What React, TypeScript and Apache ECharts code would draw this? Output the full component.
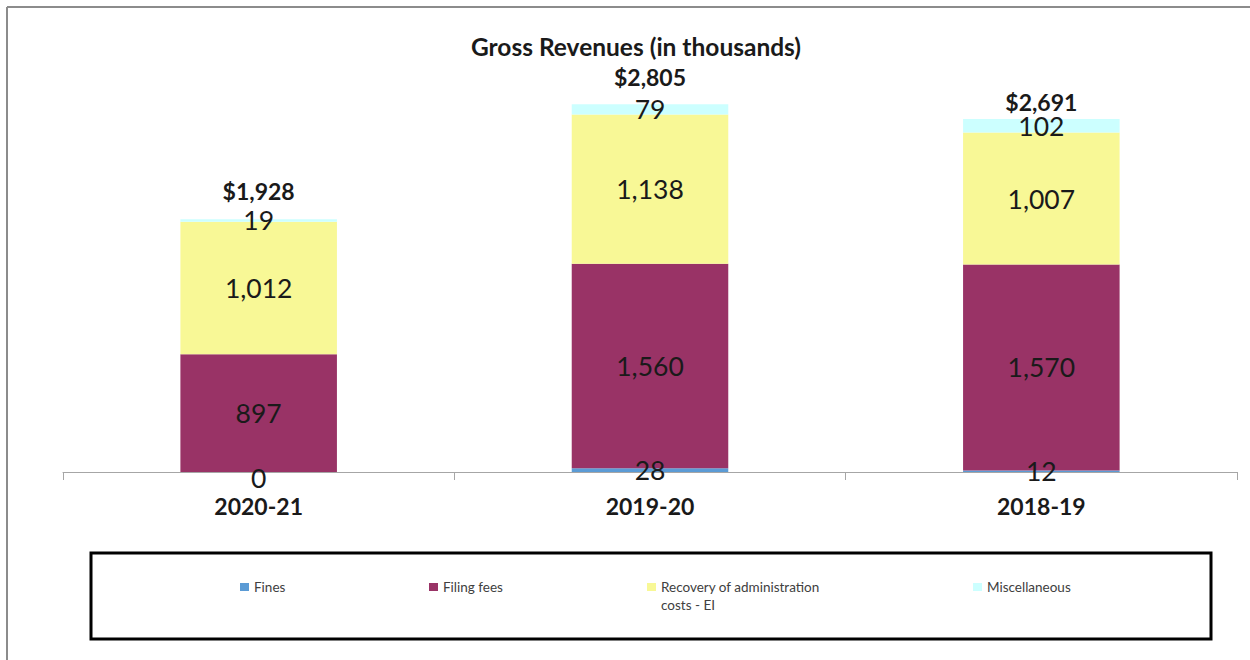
import React, { useEffect, useRef } from "react";
import * as echarts from "echarts";

// Fiscal years and revenue components (thousands of dollars)
const years = ["2020-21", "2019-20", "2018-19"];
const fines = [0, 28, 12];
const filingFees = [897, 1560, 1570];
const recoveryEI = [1012, 1138, 1007];
const miscellaneous = [19, 79, 102];
const totals = [1928, 2805, 2691];

const seriesNames = ["Fines", "Filing fees", "Recovery of administration costs - EI", "Miscellaneous"];
const seriesColors = ["#5b9bd5", "#993366", "#f8f896", "#ccffff"];

// gap between the bar top and its total label
const totalLabelGap = [16, 15, 5];

const FONT = "Lato, 'Open Sans', sans-serif";

const fmt = (v: number) => v.toLocaleString("en-US");

export default function App() {
  const ref = useRef<HTMLDivElement>(null);

  useEffect(() => {
    if (!ref.current) return;
    const chart = echarts.init(ref.current, null, { renderer: "svg" });

    const segLabel = {
      show: true,
      position: "inside",
      fontFamily: FONT,
      fontSize: 26.5,
      color: "#1a1a1a",
      formatter: (p: any) => fmt(p.value),
    };

    const stackData = [fines, filingFees, recoveryEI, miscellaneous];

    const barSeries = stackData.map((arr, i) => ({
      name: seriesNames[i],
      type: "bar",
      stack: "rev",
      barWidth: "40%",
      itemStyle: { color: seriesColors[i] },
      label: segLabel,
      data: arr.map((v) => (v === 0 ? { value: v, label: { offset: [0, 6] } } : v)),
    }));

    const legendLefts = [240, 429, 647, 973];

    const legends = seriesNames.map((name, i) => {
      const multi = name.length > 20;
      return {
        data: [name],
        left: legendLefts[i],
        top: multi ? 560 : 578,
        padding: 0,
        icon: "rect",
        itemWidth: 9,
        itemHeight: 8,
        itemGap: 0,
        selectedMode: false,
        // the wrapped name gets a blank first line so the marker sits beside its first line
        formatter: multi ? () => " \nRecovery of administration\ncosts - EI" : undefined,
        textStyle: {
          fontFamily: FONT,
          fontSize: 13.5,
          color: "#404040",
          lineHeight: 18,
        },
      };
    });

    chart.setOption({
      animation: false,
      backgroundColor: "#ffffff",
      title: {
        text: "Gross Revenues (in thousands)",
        left: 631,
        textAlign: "center",
        top: 29,
        textStyle: { fontFamily: FONT, fontSize: 24.5, fontWeight: "bold", color: "#1a1a1a" },
      },
      grid: { left: 63, right: 13, top: 78.6, bottom: 188 },
      xAxis: {
        type: "category",
        data: years,
        axisLine: { lineStyle: { color: "#a6a6a6", width: 1 } },
        axisTick: { show: true, length: 8, lineStyle: { color: "#a6a6a6" } },
        axisLabel: {
          fontFamily: FONT,
          fontSize: 23,
          fontWeight: "bold",
          color: "#1a1a1a",
          margin: 22,
        },
      },
      yAxis: {
        type: "value",
        min: 0,
        max: 3000,
        show: false,
        splitLine: { show: false },
      },
      legend: legends,
      series: [
        ...barSeries,
        {
          name: "Total",
          type: "line",
          data: totals.map((v, i) => ({ value: v, label: { distance: totalLabelGap[i] } })),
          symbol: "circle",
          symbolSize: 1,
          showSymbol: true,
          itemStyle: { color: "rgba(0,0,0,0)" },
          lineStyle: { opacity: 0 },
          silent: true,
          z: 10,
          label: {
            show: true,
            position: "top",
            fontFamily: FONT,
            fontSize: 23,
            fontWeight: "bold",
            color: "#1a1a1a",
            formatter: (p: any) => "$" + fmt(p.value),
          },
        },
      ],
      graphic: [
        {
          type: "line",
          shape: { x1: 7, y1: 7, x2: 1250, y2: 7 },
          style: { stroke: "#8c8c8c", lineWidth: 2 },
        },
        {
          type: "line",
          shape: { x1: 7, y1: 7, x2: 7, y2: 660 },
          style: { stroke: "#8c8c8c", lineWidth: 2 },
        },
        {
          type: "rect",
          z: -1,
          shape: { x: 91, y: 553, width: 1120, height: 86 },
          style: { fill: "none", stroke: "#000000", lineWidth: 3 },
        },
      ],
    });

    return () => chart.dispose();
  }, []);

  return (
    <div
      ref={ref}
      style={{ position: "fixed", left: 0, top: 0, width: 1250, height: 660, background: "#fff" }}
    />
  );
}
